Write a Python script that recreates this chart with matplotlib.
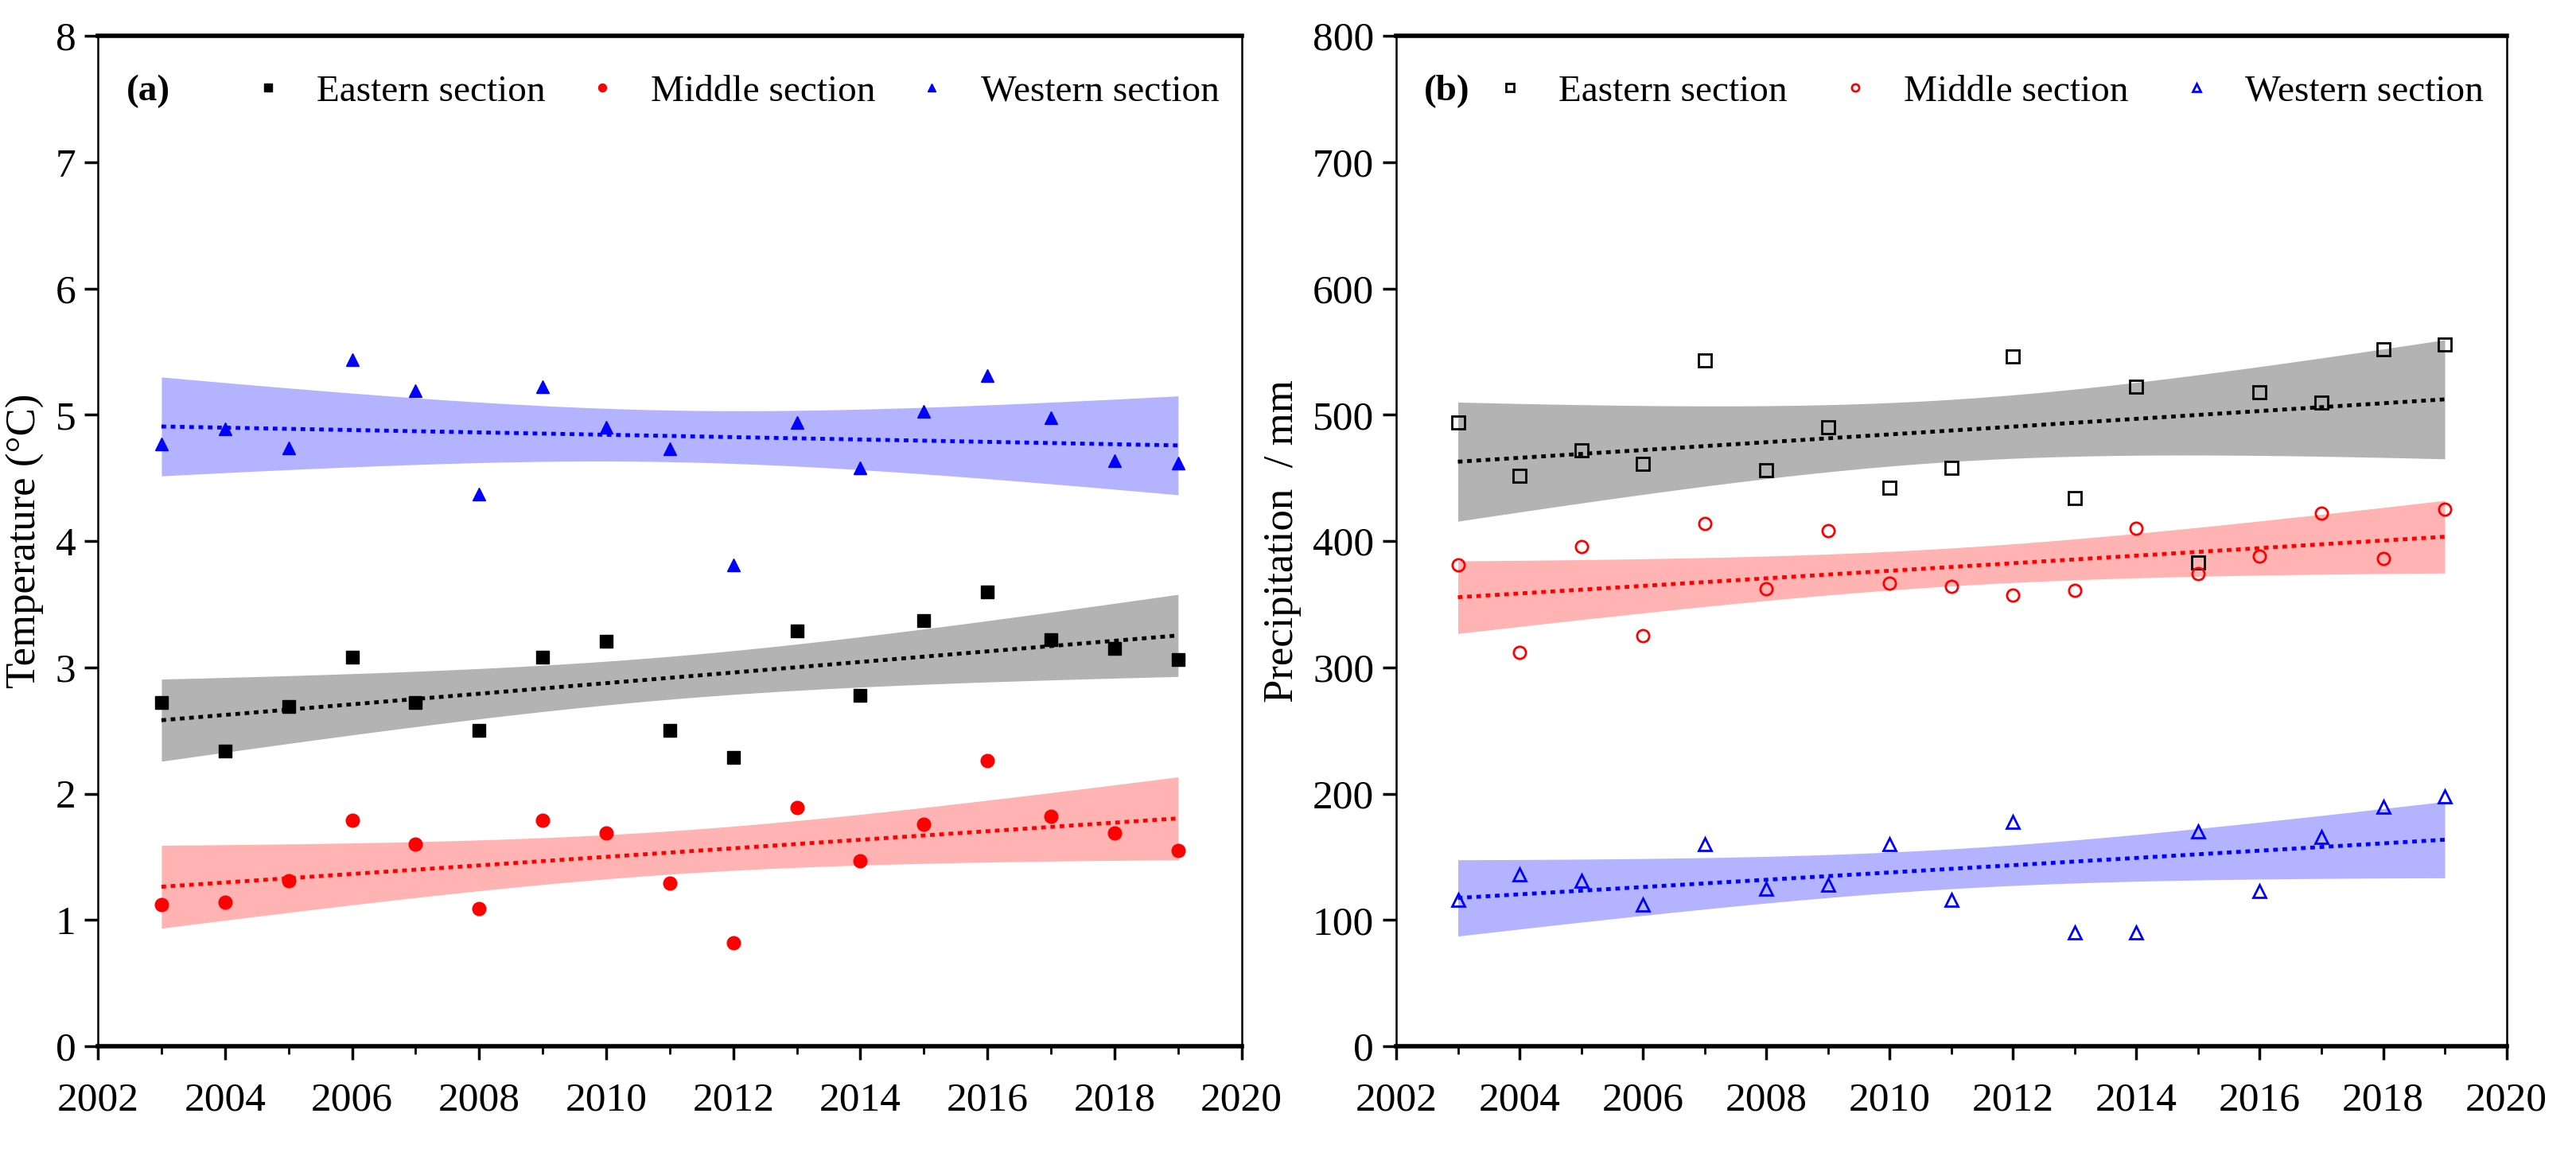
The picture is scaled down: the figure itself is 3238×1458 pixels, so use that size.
import matplotlib
matplotlib.use("Agg")
import matplotlib.pyplot as plt
import numpy as np

plt.rcParams['font.family'] = ['Liberation Serif', 'DejaVu Serif']
plt.rcParams['mathtext.fontset'] = 'stix'

years = np.arange(2003, 2020)

# (a) temperature, degC
temp_east = [2.72, 2.34, 2.69, 3.08, 2.72, 2.50, 3.08, 3.21, 2.50, 2.29,
             3.29, 2.78, 3.37, 3.60, 3.22, 3.15, 3.06]
temp_mid = [1.12, 1.14, 1.31, 1.79, 1.60, 1.09, 1.79, 1.69, 1.29, 0.82,
            1.89, 1.47, 1.76, 2.26, 1.82, 1.69, 1.55]
temp_west = [4.77, 4.89, 4.74, 5.44, 5.19, 4.37, 5.22, 4.90, 4.73, 3.81,
             4.94, 4.58, 5.03, 5.31, 4.98, 4.64, 4.62]

# (b) precipitation, mm
prec_east = [494, 452, 472, 461, 543, 456, 490, 442, 458, 546,
             434, 522, 383, 518, 510, 552, 556]
prec_mid = [381, 312, 396, 325, 414, 362, 408, 367, 364, 357,
            361, 410, 374, 388, 422, 386, 425]
prec_west = [116, 136, 131, 112, 160, 125, 128, 160, 116, 178,
             90, 90, 170, 123, 166, 190, 198]

labels = ['Eastern section', 'Middle section', 'Western section']
colors = ['black', 'red', 'blue']
bands = ['#b3b3b3', '#ffb3b3', '#b3b3ff']
markers = ['s', 'o', '^']
T_CRIT = 2.131  # t(0.975, df=15)


def fit_band(x, y):
    x = np.asarray(x, float)
    y = np.asarray(y, float)
    b, a = np.polyfit(x, y, 1)
    n = len(x)
    resid = y - (a + b * x)
    s = np.sqrt(np.sum(resid ** 2) / (n - 2))
    xm = x.mean()
    sxx = np.sum((x - xm) ** 2)
    xg = np.linspace(x.min(), x.max(), 200)
    yg = a + b * xg
    se = s * np.sqrt(1.0 / n + (xg - xm) ** 2 / sxx)
    return xg, yg, yg - T_CRIT * se, yg + T_CRIT * se


def panel(ax, series, hollow, ylim, yticks, ylabel, tag, colsp):
    for y, lab, c, bc, m in zip(series, labels, colors, bands, markers):
        xg, yg, lo, hi = fit_band(years, y)
        ax.fill_between(xg, lo, hi, color=bc, lw=0, zorder=1)
        ax.plot(xg, yg, ls=(0, (1.2, 1.2)), color=c, lw=3.5, zorder=2)
        if hollow:
            ax.plot(years, y, m, ms=11, mfc='none', mec=c, mew=2,
                    label=lab, zorder=3)
        else:
            ax.plot(years, y, m, ms=12, color=c, label=lab, zorder=3)
    ax.set_xlim(2002, 2020)
    ax.set_ylim(*ylim)
    ax.set_xticks(np.arange(2002, 2021, 2))
    ax.set_xticks(np.arange(2003, 2020, 2), minor=True)
    ax.set_yticks(yticks)
    ax.tick_params(axis='both', which='major', direction='out', length=12,
                   width=2.5, labelsize=37, pad=8)
    ax.tick_params(axis='x', which='major', pad=20)
    ax.tick_params(axis='x', which='minor', direction='out', length=7, width=2)
    for side in ['top', 'bottom']:
        ax.spines[side].set_linewidth(4)
    for side in ['left', 'right']:
        ax.spines[side].set_linewidth(1.8)
    ax.set_ylabel(ylabel, fontsize=38, labelpad=10)
    ax.text(0.025, 0.945, tag, transform=ax.transAxes, fontsize=34,
            fontweight='bold', va='center', ha='left')
    ax.legend(loc='center right', bbox_to_anchor=(1.01, 0.945), ncol=3,
              frameon=False, fontsize=34, handletextpad=0.8,
              columnspacing=colsp, markerscale=0.6, handlelength=1.0)


fig = plt.figure(figsize=(32.38, 14.58), dpi=100)
ax1 = fig.add_axes([0.038, 0.098, 0.444, 0.871])
ax2 = fig.add_axes([0.542, 0.098, 0.431, 0.871])

panel(ax1, [temp_east, temp_mid, temp_west], False, (0, 8), range(0, 9),
      'Temperature (°C)', '(a)', 1.0)
panel(ax2, [prec_east, prec_mid, prec_west], True, (0, 800),
      range(0, 801, 100), 'Precipitation  / mm', '(b)', 1.3)

fig.savefig('out.png', dpi=100)
